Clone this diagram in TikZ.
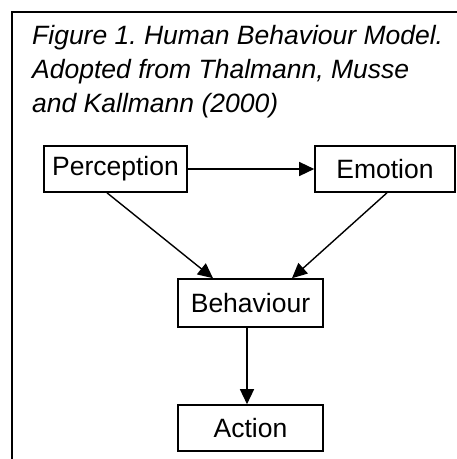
\documentclass[tikz,border=0pt]{standalone}
\usepackage{fontspec}
\setmainfont{Liberation Sans}
\usetikzlibrary{arrows.meta}
\colorlet{myline}{black}
\frenchspacing

\begin{document}
\begin{tikzpicture}[x=1pt,y=-1pt]
\tikzset{BoxStyle/.style ={draw=myline, line width=1.6pt, inner sep=0pt, minimum height=46pt, font=\fontsize{26.5}{32}\selectfont}}
\tikzset{EdgeStyle/.style ={-{Triangle[length=15pt,width=14pt]}, line width=1.4pt, color=myline}}
\useasboundingbox (0,0) rectangle (457,459);
% frame and title
\draw[line width=2pt] (12,459) -- (12,12) -- (458,12);
\node[inner sep=0,anchor=north west,align=left,font=\fontsize{26.5}{34}\selectfont\itshape] (title) at (32,25)
  {Figure 1. Human Behaviour Model.\\Adopted from Thalmann, Musse\\and Kallmann (2000)};
\node[BoxStyle, minimum width=143pt] (perception) at (115.5,169) {Perception};
\node[BoxStyle, minimum width=140pt] (emotion) at (385,169) {Emotion};
\node[BoxStyle, minimum width=145pt, minimum height=48pt] (behaviour) at (250.5,303) {Behaviour};
\node[BoxStyle, minimum width=145pt] (action) at (250.5,428) {Action};
\draw[EdgeStyle] (perception) -- (emotion);
\draw[EdgeStyle] ([xshift=-8.5pt]perception.south) -- ([xshift=-37.5pt]behaviour.north);
\draw[EdgeStyle] ([xshift=2pt]emotion.south) -- ([xshift=41.5pt]behaviour.north);
\draw[EdgeStyle] ([xshift=-3.5pt]behaviour.south) -- ([xshift=-3.5pt]action.north);
\end{tikzpicture}
\end{document}
